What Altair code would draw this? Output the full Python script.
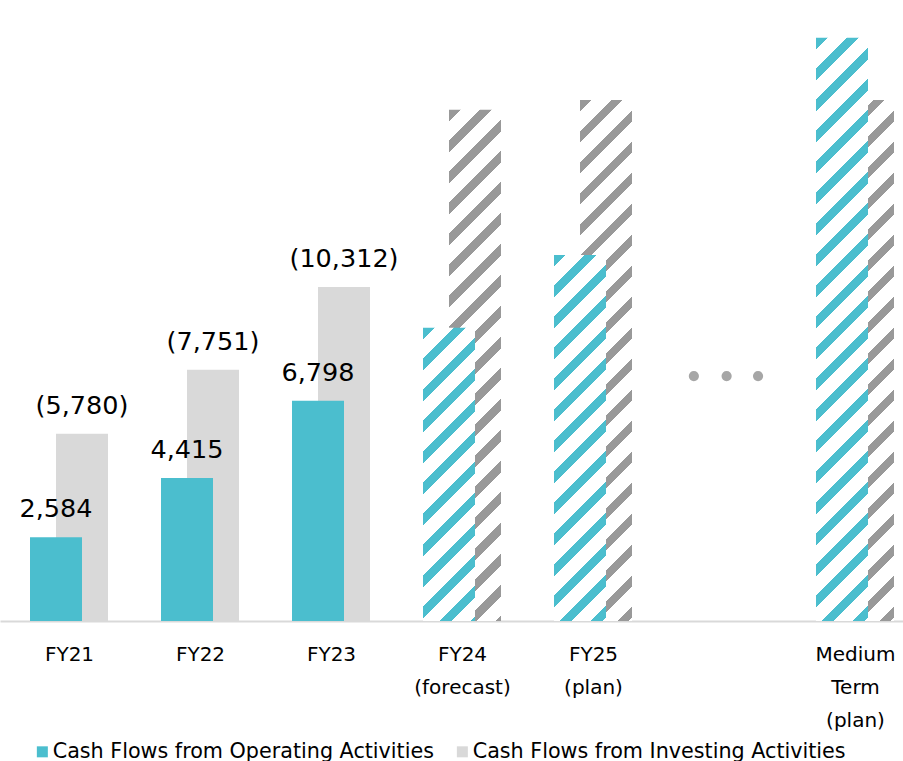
import json
import altair as alt
import pandas as pd

# ---------------- data ----------------
slots = [0, 1, 2, 3, 4, 6]
status = ["actual", "actual", "actual", "plan", "plan", "plan"]
operating = [2584, 4415, 6798, 9050, 11300, 18000]
investing = [5780, 7751, 10312, 15780, 16080, 16080]
axis_lines = [["FY21"], ["FY22"], ["FY23"], ["FY24", "(forecast)"], ["FY25", "(plan)"], [""],
              ["Medium", "Term", "(plan)"]]
series_names = ["Cash Flows from Operating Activities", "Cash Flows from Investing Activities"]
ellipsis_slots = [4.77, 5.02, 5.26]
ellipsis_level = [7560, 7560, 7560]

# ---------------- styling / geometry ----------------
TEAL = "#4BBECE"
LIGHT = "#D9D9D9"
HATCH_GRAY = "#999999"
FONT = "DejaVu Sans"
W, H = 903, 621
PX_PER_UNIT = 0.0324
YMAX = H / PX_PER_UNIT
STEP = 131.0
X0 = -69 / STEP
X1 = X0 + W / STEP
BAR_W = 52
OFF = 13
PERIOD = 31.0
FRAC = 0.38

rows = []
for s, st, o, i in zip(slots, status, operating, investing):
    rows.append({"slot": s, "status": st, "series": series_names[0], "value": o})
    rows.append({"slot": s, "status": st, "series": series_names[1], "value": i})
df = pd.DataFrame(rows)
dots = pd.DataFrame({"slot": ellipsis_slots, "value": ellipsis_level})

x_enc = alt.X(
    "slot:Q",
    scale=alt.Scale(domain=[X0, X1], nice=False, zero=False, padding=0),
    axis=alt.Axis(
        values=[0, 1, 2, 3, 4, 6],
        labelExpr=json.dumps(axis_lines) + "[datum.value]",
        ticks=False, grid=False, domainColor=LIGHT, domainWidth=2,
        labelFontSize=20, labelFont=FONT, labelColor="#000000",
        labelPadding=23, labelLineHeight=33, labelOverlap=False,
        labelFlush=False, labelBaseline="top", title=None,
    ),
)
y_enc = alt.Y("value:Q", scale=alt.Scale(domain=[0, YMAX], nice=False, zero=True, padding=0), axis=None)
color_enc = alt.Color(
    "series:N",
    scale=alt.Scale(domain=series_names, range=[TEAL, LIGHT]),
    legend=alt.Legend(
        title=None, orient="none", legendX=32, legendY=741, direction="horizontal",
        symbolType="square", symbolSize=121, symbolStrokeWidth=0,
        labelFontSize=20.7, labelFont=FONT, labelColor="#000000",
        labelOffset=0, columnPadding=18, labelLimit=0,
    ),
)


def hatch(color, h):
    w = BAR_W
    c = (w + h) / (w * w + h * h)
    total = w + h
    stops = []
    pos = 0.0
    while pos < total:
        a = pos / total
        b = min((pos + FRAC * PERIOD) / total, 1.0)
        e = min((pos + PERIOD) / total, 1.0)
        stops += [{"offset": a, "color": color}, {"offset": b, "color": color},
                  {"offset": b, "color": "#FFFFFF"}, {"offset": e, "color": "#FFFFFF"}]
        pos += PERIOD
    return {"gradient": "linear", "x1": 0, "y1": 0, "x2": c * w, "y2": c * h, "stops": stops}


base = alt.Chart(df)
layers = []

# investing (behind)
inv_actual = base.transform_filter(
    (alt.datum.series == series_names[1]) & (alt.datum.status == "actual")
).mark_bar(width=BAR_W, xOffset=OFF).encode(x=x_enc, y=y_enc, color=color_enc)
layers.append(inv_actual)
for s, st, v in zip(slots, status, investing):
    if st != "plan":
        continue
    h = v / YMAX * H
    layers.append(
        base.transform_filter((alt.datum.series == series_names[1]) & (alt.datum.slot == s))
        .mark_bar(width=BAR_W, xOffset=OFF, fill=hatch(HATCH_GRAY, h))
        .encode(x=x_enc, y=y_enc)
    )

# operating (front)
op_actual = base.transform_filter(
    (alt.datum.series == series_names[0]) & (alt.datum.status == "actual")
).mark_bar(width=BAR_W, xOffset=-OFF).encode(x=x_enc, y=y_enc, color=color_enc)
layers.append(op_actual)
for s, st, v in zip(slots, status, operating):
    if st != "plan":
        continue
    h = v / YMAX * H
    layers.append(
        base.transform_filter((alt.datum.series == series_names[0]) & (alt.datum.slot == s))
        .mark_bar(width=BAR_W, xOffset=-OFF, fill=hatch(TEAL, h))
        .encode(x=x_enc, y=y_enc)
    )

# value labels
op_text = base.transform_filter(
    (alt.datum.series == series_names[0]) & (alt.datum.status == "actual")
).transform_calculate(label="format(datum.value, ',')").mark_text(
    xOffset=-OFF, dy=-20, baseline="alphabetic", fontSize=25.5, font=FONT, color="#000000"
).encode(x=x_enc, y=y_enc, text="label:N")
inv_text = base.transform_filter(
    (alt.datum.series == series_names[1]) & (alt.datum.status == "actual")
).transform_calculate(label="'(' + format(datum.value, ',') + ')'").mark_text(
    xOffset=OFF, dy=-20, baseline="alphabetic", fontSize=25.5, font=FONT, color="#000000"
).encode(x=x_enc, y=y_enc, text="label:N")
layers += [op_text, inv_text]

dot_layer = alt.Chart(dots).mark_point(filled=True, size=104, color="#A6A6A6", opacity=1).encode(
    x=x_enc, y=y_enc
)
layers.append(dot_layer)

chart = alt.layer(*layers).properties(
    width=W, height=H, padding={"left": 0, "top": 0, "right": 0, "bottom": 0}
).configure_view(stroke=None)

chart.save("out.html", embed_options={"renderer": "svg", "actions": False})
